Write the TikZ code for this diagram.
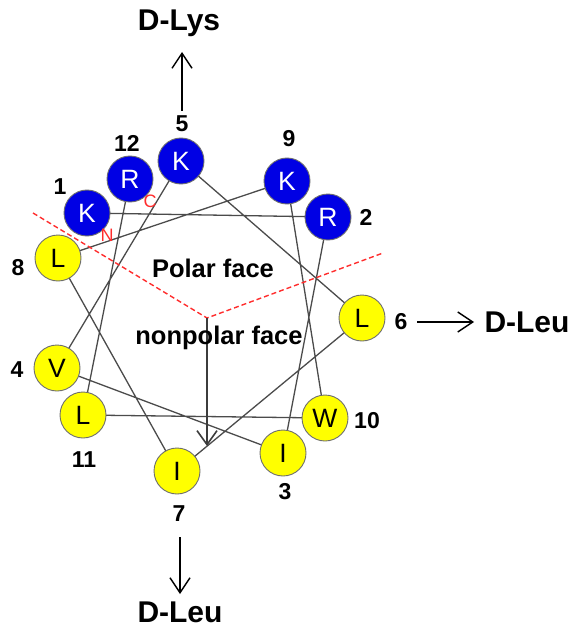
\documentclass[tikz,border=0pt]{standalone}
\usepackage{fontspec}
\setmainfont{Liberation Sans}
\usetikzlibrary{arrows.meta}
\definecolor{resblue}{RGB}{0,0,228}
\definecolor{resyellow}{RGB}{255,255,0}
\definecolor{wheelgray}{RGB}{75,75,75}
\definecolor{rimgray}{RGB}{110,110,110}
\definecolor{dashred}{RGB}{255,45,45}
\begin{document}
\begin{tikzpicture}[x=1pt,y=-1pt,
  res/.style={circle,draw=rimgray,line width=0.9pt,minimum size=46pt,inner sep=0pt,font=\fontsize{26.5}{26.5}\selectfont},
  polres/.style={res,fill=resblue,text=white},
  apolres/.style={res,fill=resyellow,text=black},
  numlab/.style={font=\bfseries\fontsize{23}{23}\selectfont},
  facelab/.style={font=\bfseries\fontsize{25.5}{25.5}\selectfont},
  termlab/.style={text=dashred,font=\fontsize{18}{18}\selectfont},
  aalab/.style={font=\bfseries\fontsize{30}{30}\selectfont},
  wheel/.style={draw=wheelgray,line width=1.3pt},
  facesep/.style={draw=dashred,line width=1.4pt,dash pattern=on 5pt off 3pt},
  subarrow/.style={draw=black,line width=1.4pt,-{Straight Barb[length=15pt,width=20pt,line width=1.4pt]}},
  momarrow/.style={draw=wheelgray!80!black,line width=2pt,-{Straight Barb[length=14pt,width=20pt,line width=1.6pt]}}
]
\useasboundingbox (0,0) rectangle (576,631);
% residue positions
\coordinate (c1) at (87,213);
\coordinate (c2) at (328,217);
\coordinate (c3) at (283,453);
\coordinate (c4) at (57,368);
\coordinate (c5) at (181,161);
\coordinate (c6) at (362,318);
\coordinate (c7) at (177,471);
\coordinate (c8) at (58,258);
\coordinate (c9) at (287,181);
\coordinate (c10) at (325,418);
\coordinate (c11) at (83,415);
\coordinate (c12) at (130,179);
% wheel connectors
\draw[wheel] (c1) -- (c2) -- (c3) -- (c4) -- (c5) -- (c6) -- (c7) -- (c8) -- (c9) -- (c10) -- (c11) -- (c12);
% face separator
\coordinate (dl) at (33,213);
\coordinate (dv) at (207,318);
\coordinate (dr) at (383,253);
\draw[facesep] (dl) -- (dv) -- (dr);
% hydrophobic moment arrow
\coordinate (mtip) at (207,446);
\draw[momarrow] (dv) -- (mtip);
% residues
\node[polres] (r1) at (c1) {K};
\node[polres] (r2) at (c2) {R};
\node[apolres] (r3) at (c3) {I};
\node[apolres] (r4) at (c4) {V};
\node[polres] (r5) at (c5) {K};
\node[apolres] (r6) at (c6) {L};
\node[apolres] (r7) at (c7) {I};
\node[apolres] (r8) at (c8) {L};
\node[polres] (r9) at (c9) {K};
\node[apolres] (r10) at (c10) {W};
\node[apolres] (r11) at (c11) {L};
\node[polres] (r12) at (c12) {R};
% numbers
\node[numlab] (n1) at (60,187) {1};
\node[numlab] (n2) at (366,217) {2};
\node[numlab] (n3) at (285,492) {3};
\node[numlab] (n4) at (17,370) {4};
\node[numlab] (n5) at (182,124) {5};
\node[numlab] (n6) at (401,322) {6};
\node[numlab] (n7) at (179,514) {7};
\node[numlab] (n8) at (18,268) {8};
\node[numlab] (n9) at (289,139) {9};
\node[numlab] (n10) at (367,421) {10};
\node[numlab] (n11) at (84,460) {11};
\node[numlab] (n12) at (127,143) {12};
% termini
\node[termlab] (tc) at (150,201) {C};
\node[termlab] (tn) at (107,235) {N};
% faces
\node[facelab] (pf) at (213,268) {Polar face};
\node[facelab] (nf) at (219,338) {nonpolar face};
% substitutions
\node[aalab] (dlys) at (179,23) {D-Lys};
\node[aalab] (dleur) at (527,322) {D-Leu};
\node[aalab] (dleub) at (180,612) {D-Leu};
\coordinate (a5s) at (182,111);
\coordinate (a5e) at (182,52);
\coordinate (a6s) at (417,322);
\coordinate (a6e) at (474,322);
\coordinate (a7s) at (180,537);
\coordinate (a7e) at (180,594);
\draw[subarrow] (a5s) -- (a5e);
\draw[subarrow] (a6s) -- (a6e);
\draw[subarrow] (a7s) -- (a7e);
\end{tikzpicture}
\end{document}
